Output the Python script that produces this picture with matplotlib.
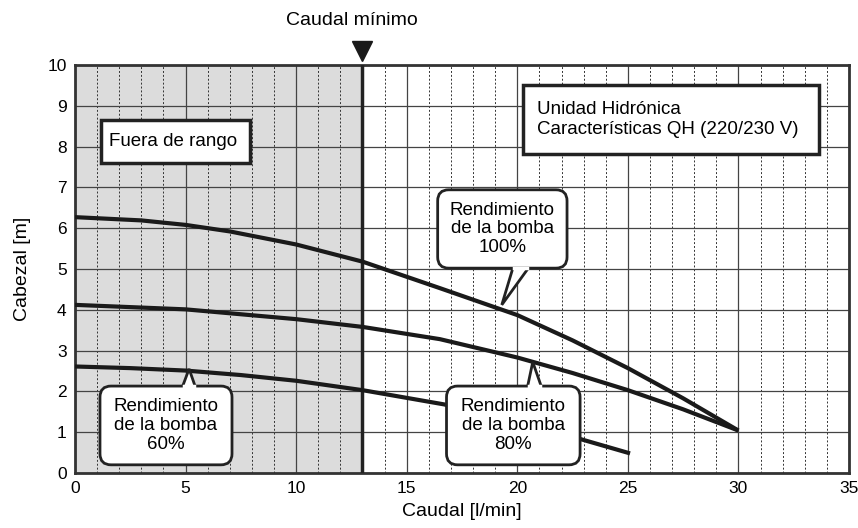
import numpy as np
import matplotlib
matplotlib.use("Agg")
import matplotlib.pyplot as plt
from matplotlib.patches import FancyBboxPatch, Polygon, Rectangle

plt.rcParams['font.family'] = ['Liberation Sans', 'DejaVu Sans']

# pump curves
q100 = [0, 3, 5, 7, 10, 13, 16.5, 20, 22.5, 25, 27.5, 30]
h100 = [6.27, 6.19, 6.08, 5.92, 5.6, 5.18, 4.53, 3.87, 3.25, 2.57, 1.83, 1.04]
q80 = [0, 5, 10, 13, 16.5, 20, 22.5, 25, 27.5, 30]
h80 = [4.12, 4.01, 3.77, 3.58, 3.28, 2.83, 2.45, 2.03, 1.56, 1.04]
q60 = [0, 2.5, 5, 7.5, 10, 13, 16.7, 22.8, 25.1]
h60 = [2.61, 2.57, 2.51, 2.4, 2.26, 2.03, 1.68, 0.84, 0.48]
q_min = 13.0

fig = plt.figure(figsize=(8.58, 5.28), dpi=100)
ax = fig.add_axes([0.0874, 0.1042, 0.9021, 0.7728])
ax.set_xlim(0, 35)
ax.set_ylim(0, 10)

# out of range area
ax.add_patch(Rectangle((0, 0), q_min, 10, facecolor='#dcdcdc', edgecolor='none', zorder=0))

ax.set_xticks(range(0, 36, 5))
ax.set_xticks(range(0, 36), minor=True)
ax.set_yticks(range(0, 11))
ax.grid(True, which='major', color='#444444', linewidth=0.9, linestyle='-', zorder=1)
ax.grid(True, which='minor', axis='x', color='#333333', linewidth=0.7, linestyle=(0, (2, 2)), zorder=1)
ax.set_axisbelow(True)
ax.tick_params(which='both', length=0, labelsize=12.5, pad=6)
for s in ax.spines.values():
    s.set_linewidth(2)
    s.set_color('#333333')

ax.axvline(q_min, color='#222222', linewidth=2.5, zorder=3)

for q, h in [(q100, h100), (q80, h80), (q60, h60)]:
    ax.plot(q, h, color='#1a1a1a', linewidth=3, solid_capstyle='butt', solid_joinstyle='round', zorder=4)

ax.set_xlabel('Caudal [l/min]', fontsize=14, labelpad=5)
ax.set_ylabel('Cabezal [m]', fontsize=14, labelpad=12)

# caudal minimo marker
ax.plot([q_min], [10.33], marker='v', markersize=15, color='#1a1a1a', clip_on=False, zorder=6)
ax.text(12.53, 11.1, 'Caudal mínimo', ha='center', va='center', fontsize=14, clip_on=False)

# square text boxes
ax.add_patch(Rectangle((1.18, 7.6), 6.72, 1.05, facecolor='white', edgecolor='#222222', linewidth=2.5, zorder=5))
ax.text(1.55, 8.12, 'Fuera de rango', ha='left', va='center', fontsize=13.5, zorder=6)
ax.add_patch(Rectangle((20.25, 7.82), 13.4, 1.68, facecolor='white', edgecolor='#222222', linewidth=2.5, zorder=5))
ax.text(20.9, 8.66, 'Unidad Hidrónica\nCaracterísticas QH (220/230 V)', ha='left', va='center',
        fontsize=13.5, linespacing=1.2, zorder=6)


def callout(x0, y0, x1, y1, base, tip, label, top):
    box = FancyBboxPatch((x0, y0), x1 - x0, y1 - y0,
                         boxstyle='round,pad=0,rounding_size=0.5', mutation_aspect=0.542,
                         facecolor='white', edgecolor='#222222', linewidth=2, zorder=7)
    ax.add_patch(box)
    ye = y1 if top else y0
    tail = Polygon([(base[0], ye), tip, (base[1], ye)], closed=False,
                   facecolor='white', edgecolor='#222222', linewidth=2, zorder=8)
    ax.add_patch(tail)
    ax.plot([base[0] + 0.06, base[1] - 0.06], [ye, ye], color='white', linewidth=2.5, zorder=9)
    ax.text((x0 + x1) / 2, (y0 + y1) / 2, label, ha='center', va='center',
            fontsize=13.5, linespacing=1.15, zorder=10)


callout(16.4, 5.02, 22.25, 6.94, (19.8, 20.5), (19.3, 4.12), 'Rendimiento\nde la bomba\n100%', False)
callout(1.13, 0.2, 7.1, 2.13, (4.87, 5.43), (5.16, 2.55), 'Rendimiento\nde la bomba\n60%', True)
callout(16.8, 0.2, 22.84, 2.13, (20.47, 21.08), (20.7, 2.72), 'Rendimiento\nde la bomba\n80%', True)

fig.savefig('out.png', dpi=100)
